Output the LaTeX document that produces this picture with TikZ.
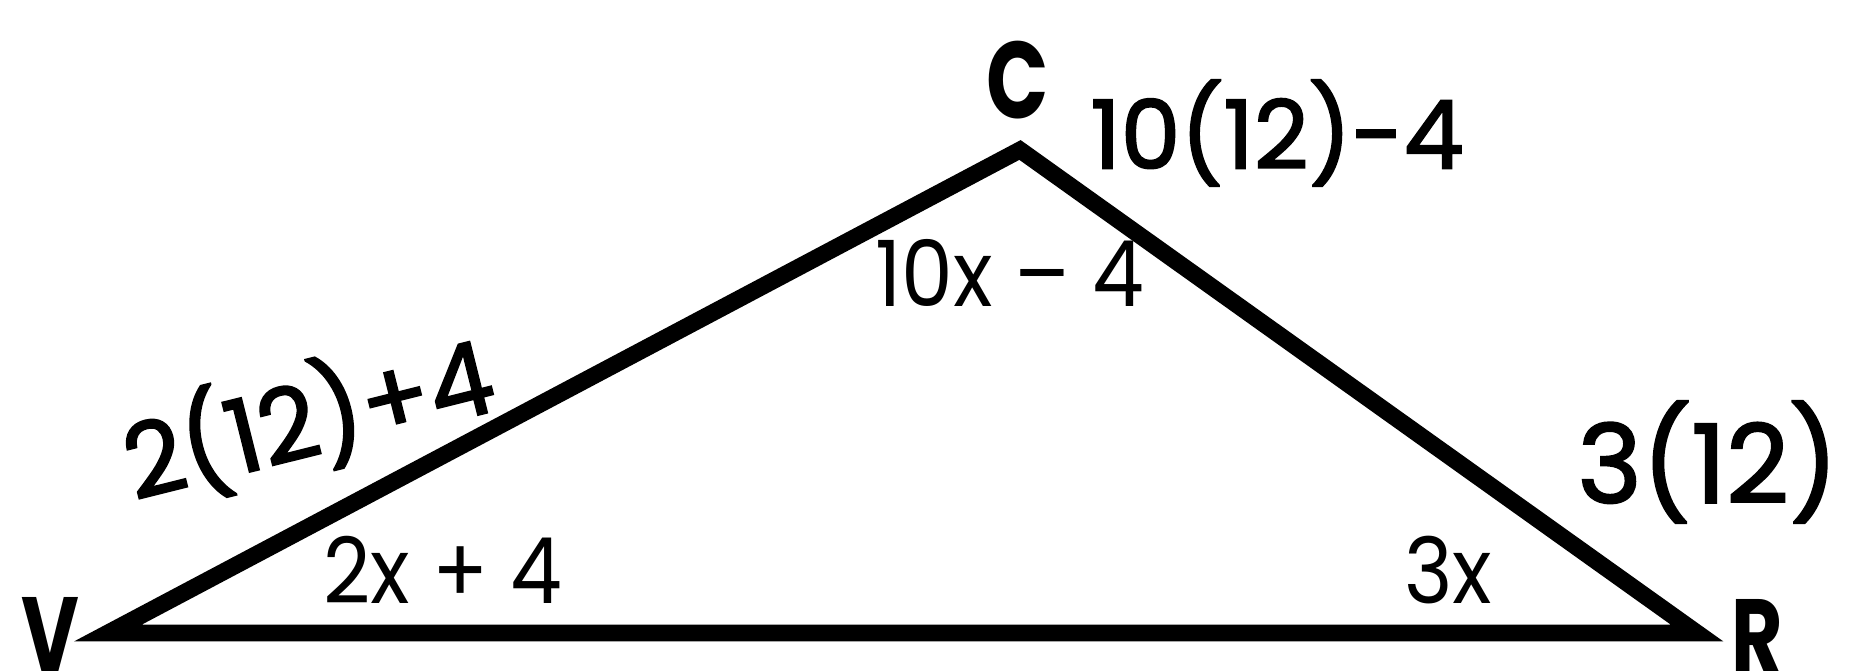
\documentclass[tikz,border=0pt]{standalone}
\usepackage{fontspec}
\setmainfont{Poppins}
\newfontfamily\handfont{Poppins}[FakeBold=2]
\begin{document}
\begin{tikzpicture}[x=0.01cm,y=-0.01cm,
  edge/.style={line width=4.8pt,line join=miter,black},
  vlabel/.style={font=\fontsize{30}{32}\selectfont\bfseries,inner sep=0pt,xscale=0.75},
  angl/.style={font=\fontsize{26}{28}\selectfont,inner sep=0pt,xscale=0.9},
  hand/.style={font=\fontsize{27}{30}\handfont,inner sep=0pt}]
\useasboundingbox (0,0) rectangle (1850,671);
\coordinate (v) at (108,633);
\coordinate (c) at (1020,150);
\coordinate (r) at (1697,633);
\draw[edge] (v) -- (c) -- (r) -- cycle;
% vertex letters
\node[vlabel] (lv) at (50,634) {V};
\node[vlabel,font=\fontsize{31}{32}\selectfont\bfseries] (lc) at (1018,80) {C};
\node[vlabel] (lr) at (1757,636) {R};
% printed angle labels
\node[angl] (ac) at (1010,273) {10x – 4};
\node[angl] (av) at (443,570) {2x + 4};
\node[angl] (ar) at (1448,570) {3x};
% handwritten substitutions
\node[hand] (hc) at (1277,133) {10(12)-4};
\node[hand,rotate=14,font=\fontsize{29}{32}\handfont] (hv) at (308,418) {2(12)+4};
\node[hand,font=\fontsize{31}{34}\handfont] (hr) at (1708,462) {3(12)};
\end{tikzpicture}
\end{document}
